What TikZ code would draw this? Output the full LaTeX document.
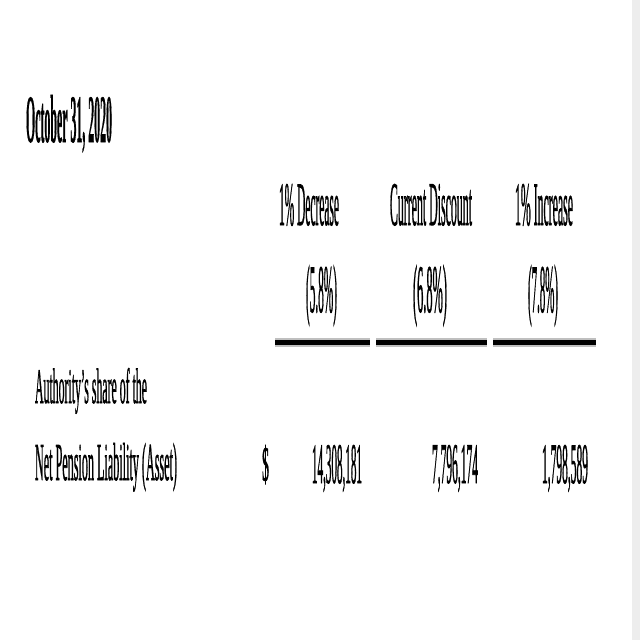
\documentclass[tikz,border=0pt]{standalone}
\usepackage{graphicx}
\usepackage{fontspec}
\setmainfont{Liberation Serif}[FakeBold=1.5]
\newfontfamily\titlefont{Liberation Serif Bold}[FakeBold=1]
\newcommand{\fitbox}[3]{\resizebox{#1pt}{#2pt}{#3}}
\begin{document}
\begin{tikzpicture}[x=1pt,y=-1pt,
  txt/.style={anchor=base west,inner sep=0pt,outer sep=0pt},
  rule/.style={line width=5pt,black},
  rulehalo/.style={line width=9pt,black!25}]
\useasboundingbox (0,0) rectangle (640,640);
\fill[white] (0,0) rectangle (640,640);
\fill[black!7] (632,0) rectangle (640,640);
% title
\node[txt] (title) at (26,142) {\fitbox{86}{47}{\titlefont October 31, 2020}};
% headers
\node[txt] (h1) at (279,225) {\fitbox{60}{41}{1\% Decrease}};
\node[txt] (h2) at (390,225) {\fitbox{82}{41}{Current Discount}};
\node[txt] (h3) at (515,225) {\fitbox{58}{41}{1\% Increase}};
\node[txt] (r1) at (306,312) {\fitbox{31}{47}{(5.8\%)}};
\node[txt] (r2) at (413,312) {\fitbox{34}{47}{(6.8\%)}};
\node[txt] (r3) at (528,312) {\fitbox{30}{47}{(7.8\%)}};
% rules
\coordinate (a1) at (275,342); \coordinate (b1) at (370,342);
\coordinate (a2) at (376,342); \coordinate (b2) at (487,342);
\coordinate (a3) at (493,342); \coordinate (b3) at (596,342);
\foreach \i in {1,2,3}{
  \draw[rulehalo] (a\i) -- (b\i);
  \draw[rule] (a\i) -- (b\i);
}
% row label
\node[txt] (l1) at (35,403) {\fitbox{112}{35}{Authority's share of the}};
\node[txt] (l2) at (35,480) {\fitbox{142}{37}{Net Pension Liability (Asset)}};
% values
\node[txt] (dol) at (262,480.5) {\fitbox{7}{35.5}{\$}};
\node[txt] (v1) at (312,483) {\fitbox{50}{38}{14,308,181}};
\node[txt] (v2) at (432,483) {\fitbox{46}{38}{7,796,174}};
\node[txt] (v3) at (542,483) {\fitbox{46}{38}{1,798,589}};
\end{tikzpicture}
\end{document}
